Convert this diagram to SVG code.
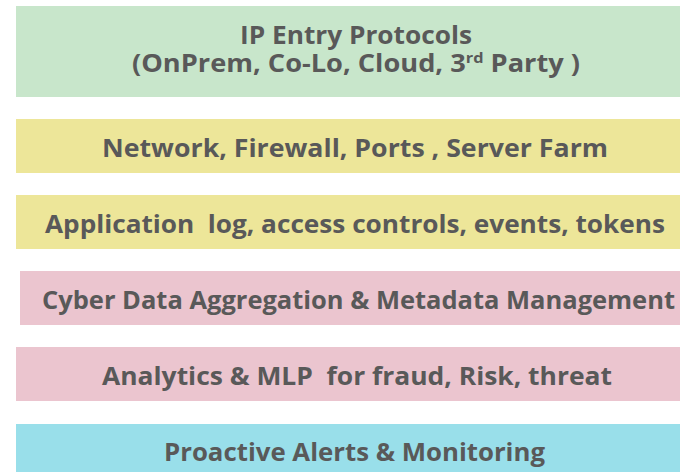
<svg xmlns="http://www.w3.org/2000/svg" width="680" height="472" viewBox="0 0 680 472">
<style>
.t{font-family:"Open Sans","DejaVu Sans","Liberation Sans",sans-serif;font-weight:bold;font-size:25px;fill:#595959;white-space:pre}
.g{fill:#C8E6CB}.y{fill:#EDE699}.p{fill:#EBC5CF}.c{fill:#99DFEA}
</style>
<rect width="680" height="472" fill="#FFFFFF"/>
<g id="ip-entry">
<rect class="g" x="16" y="6" width="664" height="91"/>
<text class="t" x="240" y="44" textLength="232" lengthAdjust="spacingAndGlyphs">IP Entry Protocols</text>
<text class="t" x="132" y="72" textLength="448" lengthAdjust="spacingAndGlyphs">(OnPrem, Co-Lo, Cloud, 3<tspan font-size="15" dy="-9">rd</tspan><tspan dy="9"> Party )</tspan></text>
</g>
<g id="network">
<rect class="y" x="16" y="119" width="664" height="54"/>
<text class="t" x="102" y="157" textLength="506" lengthAdjust="spacingAndGlyphs">Network, Firewall, Ports , Server Farm</text>
</g>
<g id="application">
<rect class="y" x="16" y="195" width="664" height="54"/>
<text class="t" x="45" y="233" textLength="620" lengthAdjust="spacingAndGlyphs">Application  log, access controls, events, tokens</text>
</g>
<g id="aggregation">
<rect class="p" x="20" y="271" width="660" height="54"/>
<text class="t" x="42" y="309" textLength="633" lengthAdjust="spacingAndGlyphs">Cyber Data Aggregation &amp; Metadata Management</text>
</g>
<g id="analytics">
<rect class="p" x="16" y="347" width="664" height="54"/>
<text class="t" x="102" y="385" textLength="510" lengthAdjust="spacingAndGlyphs">Analytics &amp; MLP  for fraud, Risk, threat</text>
</g>
<g id="alerts">
<rect class="c" x="16" y="424" width="664" height="48"/>
<text class="t" x="164" y="461" textLength="381" lengthAdjust="spacingAndGlyphs">Proactive Alerts &amp; Monitoring</text>
</g>
<g id="connectors"></g>
</svg>
